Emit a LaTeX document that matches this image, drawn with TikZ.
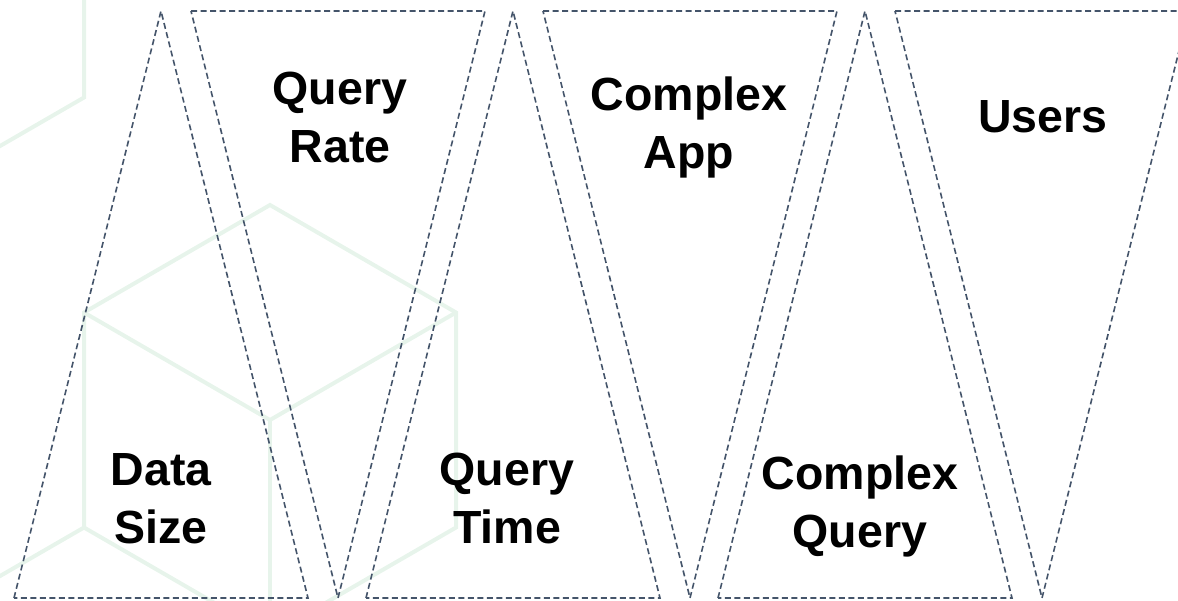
\documentclass[tikz,border=0pt]{standalone}
\usepackage{fontspec}
\setmainfont{Liberation Sans}

\definecolor{slate}{RGB}{68,84,106}
\definecolor{mint}{RGB}{231,244,235}

\def\pitch{352}

\begin{document}
\begin{tikzpicture}[%
	x=1pt, y=-1pt,%
	hexline/.style ={mint, line width=4pt, line join=miter},%
	tri/.style ={slate, line width=1.6pt, dash pattern=on 6pt off 3.5pt},%
	word/.style ={inner sep=0pt, anchor=north, align=center, font=\fontsize{46.5}{58}\selectfont\bfseries},%
	]
	\useasboundingbox (0,0) rectangle (1178,600);
	\clip (0,0) rectangle (1178,600);
%%% background cubes
	\draw [hexline] (270,205) -- (456,312.5) -- (456,527.5) -- (270,635) -- (84,527.5) -- (84,312.5) -- cycle;
	\draw [hexline] (84,312.5) -- (270,420) -- (456,312.5);
	\draw [hexline] (270,420) -- (270,635);
	\draw [hexline] (84,-120) -- (84,97.5) -- (-102,205);
	\draw [hexline] (84,527.5) -- (-102,635);
%%% background cubes
%%% triangles
	\foreach \k in {0,1,2}
		{\draw [tri] (14+\pitch*\k,598) -- (161+\pitch*\k,11) -- (308+\pitch*\k,598) -- cycle;
		 \draw [tri] (191+\pitch*\k,11) -- (485+\pitch*\k,11) -- (338+\pitch*\k,598) -- cycle;}
%%% triangles
%%% labels
	\foreach \x/\y/\name/\txt in {161/453/datasize/{Data\\Size},%
			340/72/queryrate/{Query\\Rate},%
			507/453/querytime/{Query\\Time},%
			689/77/complexapp/{Complex\\App},%
			860/456/complexquery/{Complex\\Query},%
			1043/100/users/{Users}}
		{\node [word] (\name) at (\x,\y) {\txt};}
%%% labels
\end{tikzpicture}
\end{document}
